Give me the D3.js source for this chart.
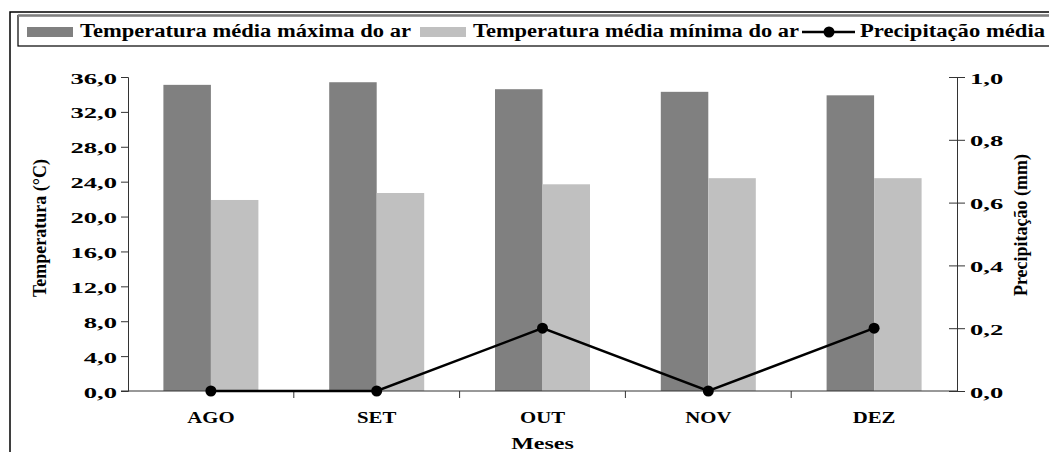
<!DOCTYPE html>
<html lang="pt-BR">
<head>
<meta charset="UTF-8">
<script src="https://d3js.org/d3.v7.min.js"></script>
<style>
  body { margin: 0; background: #fff; }
  svg { display: block; font-family: "Liberation Serif", "Times New Roman", serif; }
</style>
</head>
<body>
<div id="chart"></div>
<script>
// dados
const months = ["AGO", "SET", "OUT", "NOV", "DEZ"];
const tempMax = [35.1, 35.4, 34.6, 34.3, 33.9];
const tempMin = [21.9, 22.7, 23.7, 24.4, 24.4];
const precip = [0, 0, 0.2, 0, 0.2];
const tempTicks = [0, 4, 8, 12, 16, 20, 24, 28, 32, 36];
const precipTicks = [0, 0.2, 0.4, 0.6, 0.8, 1.0];
const seriesNames = ["Temperatura média máxima do ar", "Temperatura média mínima do ar", "Precipitação média"];

const W = 1049, H = 452;
const pLeft = 128, pRight = 957, pTop = 77, pBottom = 391;
const darkGray = "#808080", lightGray = "#C0C0C0";

const svg = d3.select("#chart").append("svg")
  .attr("width", W).attr("height", H);

const fmt = v => d3.format(".1f")(v).replace(".", ",");

// moldura externa
svg.append("rect")
  .attr("x", 10).attr("y", 12).attr("width", 1100).attr("height", 500)
  .attr("fill", "none").attr("stroke", "#000").attr("stroke-width", 1.5);

// escalas
const x = d3.scaleBand().domain(months).range([pLeft, pRight])
  .paddingInner(0.427).paddingOuter(0.2135);
const xSub = d3.scaleBand().domain(["max", "min"]).range([0, x.bandwidth()]);
const yT = d3.scaleLinear().domain([0, 36]).range([pBottom, pTop]);
const yP = d3.scaleLinear().domain([0, 1]).range([pBottom, pTop]);

// barras
const groups = svg.append("g").selectAll("g").data(months).join("g")
  .attr("transform", d => `translate(${x(d)},0)`);
groups.append("rect")
  .attr("x", xSub("max")).attr("width", xSub.bandwidth())
  .attr("y", (d, i) => yT(tempMax[i])).attr("height", (d, i) => pBottom - yT(tempMax[i]))
  .attr("fill", darkGray);
groups.append("rect")
  .attr("x", xSub("min")).attr("width", xSub.bandwidth())
  .attr("y", (d, i) => yT(tempMin[i])).attr("height", (d, i) => pBottom - yT(tempMin[i]))
  .attr("fill", lightGray);

// eixo esquerdo
const axL = svg.append("g").attr("transform", `translate(${pLeft},0)`)
  .call(d3.axisLeft(yT).tickValues(tempTicks).tickFormat(fmt).tickSizeOuter(0).tickSize(7));
axL.select(".domain").attr("stroke", "#333");
axL.selectAll(".tick line").attr("stroke", "#333");
axL.selectAll("text")
  .attr("font-family", "Liberation Serif").attr("font-weight", "bold").attr("font-size", 14)
  .attr("fill", "#000").attr("transform", "scale(1.9,1)")
  .attr("x", -11 / 1.9).attr("dy", "0.43em");

// eixo direito (ticks cruzados)
const axR = svg.append("g").attr("transform", `translate(${pRight},0)`)
  .call(d3.axisRight(yP).tickValues(precipTicks).tickFormat(fmt).tickSizeOuter(0).tickSize(8));
axR.select(".domain").attr("stroke", "#333");
axR.selectAll(".tick line").attr("stroke", "#333").attr("x1", -8);
axR.selectAll("text")
  .attr("font-family", "Liberation Serif").attr("font-weight", "bold").attr("font-size", 14)
  .attr("fill", "#000").attr("transform", "scale(1.9,1)")
  .attr("x", 13 / 1.9).attr("dy", "0.43em");

// eixo x
svg.append("line").attr("x1", pLeft - 7).attr("x2", pRight).attr("y1", pBottom).attr("y2", pBottom)
  .attr("stroke", "#333");
const step = x.step();
svg.append("g").selectAll("line").data(months.slice(1)).join("line")
  .attr("x1", d => x(d) - x.paddingInner() * step / 2)
  .attr("x2", d => x(d) - x.paddingInner() * step / 2)
  .attr("y1", pBottom).attr("y2", pBottom + 7).attr("stroke", "#333");
svg.append("g").selectAll("text").data(months).join("text")
  .attr("transform", d => `translate(${x(d) + x.bandwidth() / 2},${423}) scale(1.3,1)`)
  .attr("text-anchor", "middle").attr("font-weight", "bold").attr("font-size", 16)
  .text(d => d);

// linha de precipitação
const cx = d => x(d) + x.bandwidth() / 2;
svg.append("path").datum(months)
  .attr("d", d3.line().x(cx).y((d, i) => yP(precip[i])))
  .attr("fill", "none").attr("stroke", "#000").attr("stroke-width", 2.5);
svg.append("g").selectAll("circle").data(months).join("circle")
  .attr("cx", cx).attr("cy", (d, i) => yP(precip[i])).attr("r", 5.5).attr("fill", "#000");

// títulos dos eixos
svg.append("text").attr("transform", `translate(${46},${228}) rotate(-90)`)
  .attr("text-anchor", "middle").attr("font-weight", "bold").attr("font-size", 18)
  .text("Temperatura (°C)");
svg.append("text").attr("transform", `translate(${1027},${225}) rotate(-90)`)
  .attr("text-anchor", "middle").attr("font-weight", "bold").attr("font-size", 18)
  .text("Precipitação (mm)");
svg.append("text").attr("transform", `translate(${(pLeft + pRight) / 2},${449}) scale(1.5,1)`)
  .attr("text-anchor", "middle").attr("font-weight", "bold").attr("font-size", 16)
  .text("Meses");

// legenda
const lg = svg.append("g");
lg.append("rect").attr("x", 18).attr("y", 15.5).attr("width", 1100).attr("height", 30.5)
  .attr("fill", "#fff").attr("stroke", "#000").attr("stroke-width", 1.2);
lg.append("line").attr("x1", 18).attr("x2", 1100).attr("y1", 15.5).attr("y2", 15.5)
  .attr("stroke", "#808080").attr("stroke-width", 2.5);
lg.append("rect").attr("x", 27).attr("y", 27).attr("width", 46).attr("height", 10).attr("fill", darkGray);
lg.append("rect").attr("x", 420).attr("y", 27).attr("width", 46).attr("height", 10).attr("fill", lightGray);
lg.append("line").attr("x1", 802).attr("x2", 855).attr("y1", 32).attr("y2", 32)
  .attr("stroke", "#000").attr("stroke-width", 2.5);
lg.append("circle").attr("cx", 829).attr("cy", 32).attr("r", 5.5).attr("fill", "#000");
const legPos = [[80, 331], [473, 326], [860, 185]];
lg.selectAll("text.leg").data(seriesNames).join("text").attr("class", "leg")
  .attr("x", (d, i) => legPos[i][0]).attr("y", 37)
  .attr("textLength", (d, i) => legPos[i][1]).attr("lengthAdjust", "spacingAndGlyphs")
  .attr("font-weight", "bold").attr("font-size", 18)
  .text(d => d);
</script>
</body>
</html>
